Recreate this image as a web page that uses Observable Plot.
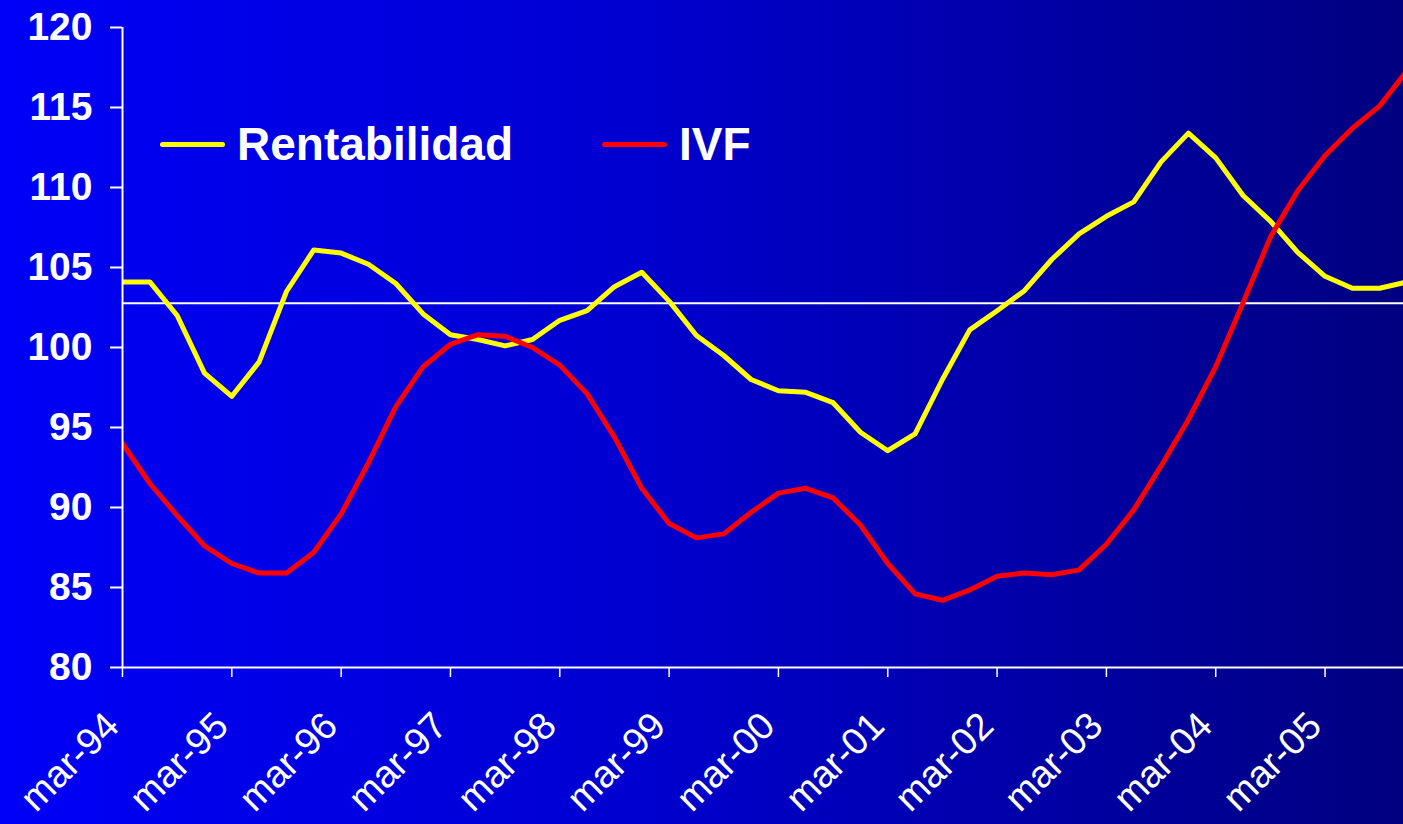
<!DOCTYPE html>
<html>
<head>
<meta charset="utf-8">
<script src="https://cdn.jsdelivr.net/npm/d3@7"></script>
<script src="https://cdn.jsdelivr.net/npm/@observablehq/plot@0.6"></script>
<style>
  html, body { margin: 0; padding: 0; background: #000080; }
  #wrap { position: relative; width: 1403px; height: 824px; overflow: hidden;
          background: linear-gradient(to right, #0000f8 0%, #0000d0 45%, #000080 100%); }
  #legend { position: absolute; left: 0; top: 0; font-family: "Liberation Sans", Arial, sans-serif;
            font-weight: bold; color: white; font-size: 46px; }
  .item { position: absolute; display: flex; align-items: center; white-space: nowrap; }
  .swatch { display: inline-block; width: 65px; height: 5px; border-radius: 3px; margin-right: 12px; }
</style>
</head>
<body>
<div id="wrap">
  <div id="chart"></div>
  <div id="legend"></div>
</div>
<script>
// Tick labels (one per year, every 4 quarters)
const tickLabels = ["mar-94","mar-95","mar-96","mar-97","mar-98","mar-99","mar-00","mar-01","mar-02","mar-03","mar-04","mar-05"];
const yTicks = [80, 85, 90, 95, 100, 105, 110, 115, 120];

// Quarterly series starting mar-94
const rentabilidad = [104.1, 104.1, 102.0, 98.4, 96.95, 99.1, 103.5, 106.1, 105.9, 105.2, 104.0, 102.1,
  100.8, 100.5, 100.1, 100.5, 101.7, 102.3, 103.8, 104.7, 102.9, 100.75, 99.5, 98.0,
  97.3, 97.2, 96.55, 94.7, 93.55, 94.6, 98.0, 101.1, 102.3, 103.55, 105.5, 107.1,
  108.2, 109.1, 111.6, 113.4, 111.85, 109.5, 107.9, 105.95, 104.45, 103.7, 103.7, 104.1];
const ivf = [94.0, 91.5, 89.5, 87.6, 86.5, 85.9, 85.9, 87.2, 89.6, 92.8, 96.3, 98.8,
  100.2, 100.8, 100.7, 100.0, 98.9, 97.1, 94.4, 91.2, 89.0, 88.1, 88.35, 89.7,
  90.9, 91.2, 90.6, 88.9, 86.5, 84.6, 84.2, 84.85, 85.7, 85.9, 85.8, 86.1,
  87.7, 89.85, 92.6, 95.5, 98.8, 102.8, 106.9, 109.8, 112.0, 113.7, 115.1, 117.3];
const referencia = [102.77];
const seriesNames = ["Rentabilidad", "IVF"];
const seriesColors = ["#ffff00", "#ff0000"];

const data = [
  ...rentabilidad.map((v, i) => ({q: i, v, serie: seriesNames[0]})),
  ...ivf.map((v, i) => ({q: i, v, serie: seriesNames[1]}))
];
const xTicks = tickLabels.map((_, k) => k * 4);

const W = 1403, H = 824;
const chart = Plot.plot({
  width: W, height: H,
  marginLeft: 122, marginRight: 0, marginTop: 27, marginBottom: 157,
  style: {background: "transparent", color: "white", fontFamily: "'Liberation Sans', Arial, sans-serif"},
  x: {domain: [0, 46.87], label: null},
  y: {domain: [80, 120], label: null},
  color: {domain: seriesNames, range: seriesColors},
  marks: [
    Plot.ruleY(referencia, {stroke: "white", strokeWidth: 2}),
    Plot.line(data, {x: "q", y: "v", z: "serie", stroke: "serie", strokeWidth: 5,
      strokeLinejoin: "round", strokeLinecap: "round", clip: true}),
    Plot.ruleX([0], {y1: 80, y2: 120, stroke: "white", strokeWidth: 2}),
    Plot.ruleY([80], {stroke: "white", strokeWidth: 2}),
    Plot.axisY({ticks: yTicks, tickSize: 12, tickPadding: 18, fontSize: 39, fontWeight: "bold",
      tickFormat: d => String(d), label: null, strokeWidth: 2}),
    // tick marks
    Plot.axisX({ticks: xTicks, tickSize: 10, tickFormat: () => "", label: null, strokeWidth: 1.5}),
    // rotated tick labels
    Plot.axisX({ticks: xTicks, tickFormat: d => tickLabels[d / 4], tickSize: 0,
      tickRotate: -45, tickPadding: 52, dx: -10, fontSize: 38, label: null})
  ]
});
document.getElementById("chart").appendChild(chart);

// Legend inside the plot area
const legend = document.getElementById("legend");
const legendPos = [{left: 160, top: 117}, {left: 602, top: 117}];
seriesNames.forEach((name, k) => {
  const it = document.createElement("div");
  it.className = "item";
  it.style.left = legendPos[k].left + "px";
  it.style.top = legendPos[k].top + "px";
  const sw = document.createElement("span");
  sw.className = "swatch";
  sw.style.background = seriesColors[k];
  const tx = document.createElement("span");
  tx.textContent = name;
  it.appendChild(sw); it.appendChild(tx);
  legend.appendChild(it);
});
</script>
</body>
</html>
